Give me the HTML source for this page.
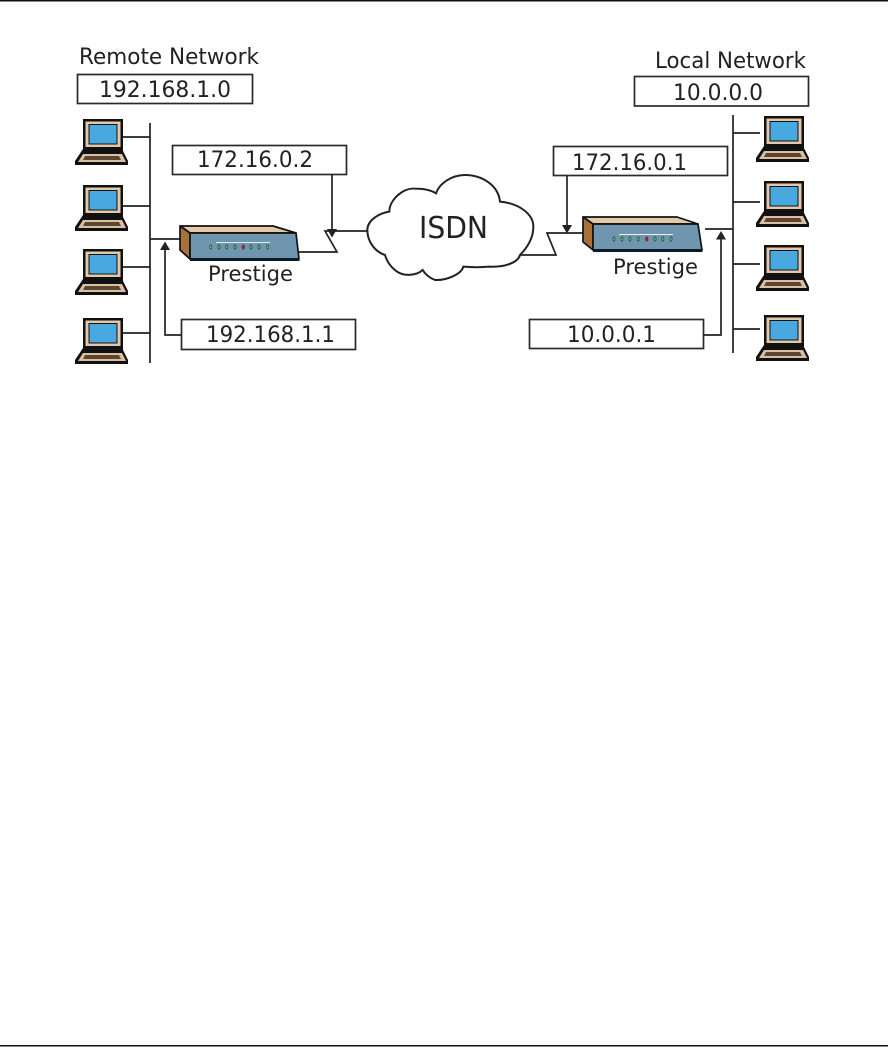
<!DOCTYPE html>
<html>
<head>
<meta charset="utf-8">
<style>
html,body{margin:0;padding:0;background:#fff;width:888px;height:1047px;overflow:hidden}
svg{display:block}
text{font-family:"DejaVu Sans",sans-serif;fill:#222}
.l{stroke:#222;stroke-width:1.700;fill:none}
.b{fill:#fff;stroke:#2a2a2a;stroke-width:1.700}
</style>
</head>
<body>
<svg width="888" height="1047" viewBox="0 0 888 1047" xmlns="http://www.w3.org/2000/svg">
<defs>
<g id="pc">
<path d="M8 0H48V33H8Z" fill="#111"/>
<path d="M10.500 2.500H45.500V28H10.500Z" fill="#e3c9ac"/>
<path d="M13.500 5H42.500V25.500H13.500Z" fill="#111"/>
<path d="M14.500 6H41.500V24.500H14.500Z" fill="#4aa8e0"/>
<path d="M8 30H47L53 42V46H0V42Z" fill="#111"/>
<path d="M8 35H47L51 43H3Z" fill="#d8c0a4"/>
<path d="M10 37H44L46 41H8Z" fill="#5c4630"/>
</g>
<g id="led1">
<ellipse cx="0" cy="0" rx="1.600" ry="2.700" fill="#2f6b4a"/>
<ellipse cx="0" cy="0" rx="0.600" ry="1.300" fill="#8fb8a0"/>
</g>
<g id="led2">
<ellipse cx="0" cy="0" rx="1.700" ry="2.700" fill="#8c2f3c"/>
</g>
</defs>

<rect x="0" y="0" width="888" height="1.500" fill="#111"/>
<rect x="0" y="1045" width="888" height="1.500" fill="#111"/>

<!-- Left network -->
<text x="79" y="64" font-size="22" textLength="180" lengthAdjust="spacingAndGlyphs">Remote Network</text>
<rect class="b" x="77.500" y="74.500" width="175" height="29"/>
<text x="99" y="97" font-size="22" textLength="132" lengthAdjust="spacingAndGlyphs">192.168.1.0</text>

<use href="#pc" x="75" y="119"/>
<use href="#pc" x="75" y="185"/>
<use href="#pc" x="75" y="249"/>
<use href="#pc" x="75" y="318"/>

<path class="l" d="M150 123V363M123 137H150M123 206H150M123 267H150M123 333H150M150 239H181"/>

<rect class="b" x="172.500" y="145.500" width="174" height="29"/>
<text x="197" y="167" font-size="22" textLength="116" lengthAdjust="spacingAndGlyphs">172.16.0.2</text>
<path class="l" d="M332 174V232"/>
<path d="M327 229H337L332 237.500Z" fill="#222"/>

<path class="l" d="M298 252H337L325 231H368"/>

<rect class="b" x="181.500" y="319.500" width="174" height="30"/>
<text x="206" y="342" font-size="22" textLength="129" lengthAdjust="spacingAndGlyphs">192.168.1.1</text>
<path class="l" d="M181 335H165V248"/>
<path d="M160 250H170L165 241.500Z" fill="#222"/>

<!-- Left router -->
<path d="M180 226H273L296 233H190Z" fill="#e3c9a8" stroke="#111" stroke-width="1.700" stroke-linejoin="round"/>
<path d="M180 226L190 233V259L180 250Z" fill="#a9713a" stroke="#111" stroke-width="1.700" stroke-linejoin="round"/>
<path d="M190 233H296L299 259H190Z" fill="#6f96ae" stroke="#111" stroke-width="1.700" stroke-linejoin="round"/>
<path d="M190 259.500H299.500" stroke="#0c1a28" stroke-width="3" fill="none"/>
<path d="M216 242.500H270" stroke="#dfe8ee" stroke-width="1" fill="none"/>
<g>
<use href="#led1" x="210.700" y="247"/><use href="#led1" x="219" y="247"/><use href="#led1" x="226.700" y="247"/><use href="#led1" x="235" y="247"/>
<use href="#led2" x="243.300" y="247"/>
<use href="#led1" x="251" y="247"/><use href="#led1" x="259" y="247"/><use href="#led1" x="267.700" y="247"/>
</g>
<text x="208" y="281" font-size="21" textLength="85" lengthAdjust="spacingAndGlyphs">Prestige</text>

<!-- Cloud -->
<g transform="translate(350,150) scale(0.3333)">
<path d="M52 240C52 212 85 190 118 185C118 150 160 112 195 116C225 116 245 122 258 130C268 100 305 75 345 75C395 75 445 105 450 155C510 160 552 195 550 232C550 265 530 295 510 315C505 335 470 352 420 350C395 352 365 352 340 350C335 372 290 392 255 390C240 385 225 372 218 360C205 372 185 376 165 374C135 370 112 340 105 315C75 305 52 275 52 240Z" fill="#fff" stroke="#222" stroke-width="6"/>
</g>
<text x="419" y="238" font-size="30" textLength="69" lengthAdjust="spacingAndGlyphs">ISDN</text>

<!-- Right network -->
<path class="l" d="M520 255H556L547 233H584"/>
<rect class="b" x="553.500" y="146.500" width="174" height="29"/>
<text x="572" y="170" font-size="22" textLength="115" lengthAdjust="spacingAndGlyphs">172.16.0.1</text>
<path class="l" d="M567 175V228"/>
<path d="M562 225H572L567 233.500Z" fill="#222"/>

<path d="M583 217H677L698 224H593Z" fill="#e3c9a8" stroke="#111" stroke-width="1.700" stroke-linejoin="round"/>
<path d="M583 217L593 224V250L583 242Z" fill="#a9713a" stroke="#111" stroke-width="1.700" stroke-linejoin="round"/>
<path d="M593 224H698L702 250H593Z" fill="#6f96ae" stroke="#111" stroke-width="1.700" stroke-linejoin="round"/>
<path d="M593 250.500H702.500" stroke="#0c1a28" stroke-width="3" fill="none"/>
<path d="M619 234.500H673" stroke="#e8eef2" stroke-width="1" fill="none"/>
<g>
<use href="#led1" x="614" y="239"/><use href="#led1" x="622" y="239"/><use href="#led1" x="630" y="239"/><use href="#led1" x="638.300" y="239"/>
<use href="#led2" x="646.700" y="239"/>
<use href="#led1" x="655" y="239"/><use href="#led1" x="662.700" y="239"/><use href="#led1" x="671" y="239"/>
</g>
<text x="613" y="274" font-size="21" textLength="85" lengthAdjust="spacingAndGlyphs">Prestige</text>

<text x="655" y="68" font-size="22" textLength="151" lengthAdjust="spacingAndGlyphs">Local Network</text>
<rect class="b" x="634.500" y="76.500" width="174" height="29.500"/>
<text x="673" y="100" font-size="22" textLength="90" lengthAdjust="spacingAndGlyphs">10.0.0.0</text>

<use href="#pc" x="756" y="116"/>
<use href="#pc" x="756" y="181"/>
<use href="#pc" x="756" y="245"/>
<use href="#pc" x="756" y="315"/>

<path class="l" d="M733 115V353M733 133H760M733 202H760M733 264H760M733 329H760M705 229H733"/>

<rect class="b" x="529.500" y="319.500" width="174" height="29"/>
<text x="567" y="342" font-size="22" textLength="89" lengthAdjust="spacingAndGlyphs">10.0.0.1</text>
<path class="l" d="M703 335H721V238"/>
<path d="M716 239.500H726L721 231Z" fill="#222"/>
</svg>
</body>
</html>
